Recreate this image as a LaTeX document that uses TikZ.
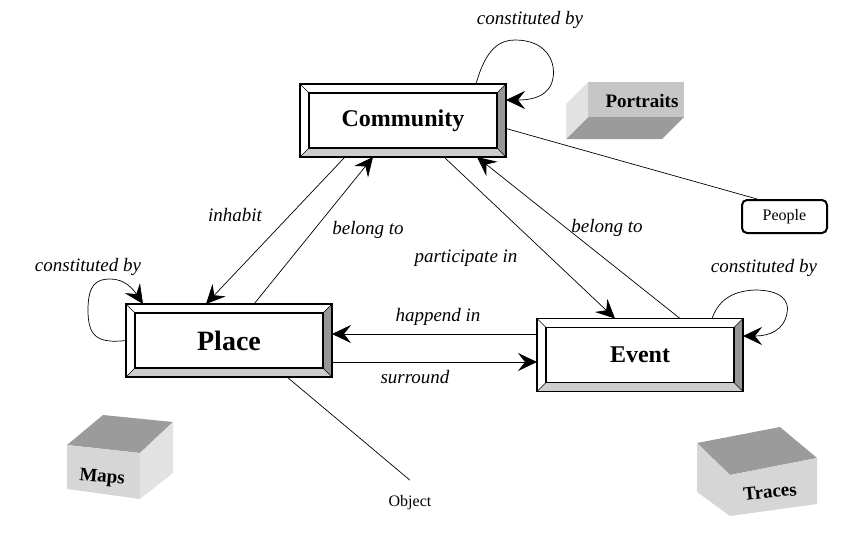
\documentclass[tikz,border=0pt]{standalone}
\usepackage{fontspec}
\setmainfont{Liberation Serif}
\usetikzlibrary{arrows.meta, calc}
\definecolor{bevdark}{RGB}{150,150,150}
\definecolor{bevlight}{RGB}{205,205,205}
\definecolor{cubetop}{RGB}{155,155,155}
\definecolor{cubeside}{RGB}{214,214,214}
\definecolor{cubepale}{RGB}{226,226,226}
\definecolor{cubemid}{RGB}{198,198,198}

\begin{document}
\begin{tikzpicture}[x=1pt, y=-1pt,
      entity/.style={rectangle, draw, line width=1.6pt, outer sep=0pt, minimum width=206pt, minimum height=73pt, font=\bfseries\fontsize{24}{28}\selectfont},
      arrow/.style={-{Stealth[length=19pt, width=18pt, inset=7pt]}, line width=0.7pt},
      link/.style={line width=0.7pt},
      rel/.style={font=\itshape\fontsize{19}{22}\selectfont},
      plain/.style={font=\fontsize{16}{19}\selectfont},
      cube/.style={font=\bfseries\fontsize{19}{22}\selectfont}
    ]
    \useasboundingbox (0,0) rectangle (868,546);

    % CUBES
    \fill[cubemid] (588,82) -- (684,82) -- (684,117) -- (588,117) -- cycle;
    \fill[cubetop] (588,117) -- (684,117) -- (662,139) -- (566,139) -- cycle;
    \fill[cubepale] (588,82) -- (588,117) -- (566,139) -- (566,104) -- cycle;
    \node[cube] (portraits) at (642,101) {Portraits};

    \fill[cubetop] (67,445) -- (103,415) -- (173,422) -- (140,453) -- cycle;
    \fill[cubeside] (67,445) -- (140,453) -- (140,499) -- (67,489) -- cycle;
    \fill[cubepale] (140,453) -- (173,422) -- (173,473) -- (140,499) -- cycle;
    \node[cube, rotate=-5] (maps) at (102,478) {Maps};

    \fill[cubetop] (697,443) -- (780,427) -- (817,458) -- (730,475) -- cycle;
    \fill[cubeside] (697,443) -- (730,475) -- (730,516) -- (697,492) -- cycle;
    \fill[cubeside] (730,475) -- (817,458) -- (817,504) -- (730,516) -- cycle;
    \node[cube, rotate=6] (traces) at (770,492) {Traces};

    % ENTITIES
    \node[entity] (community) at (403,120.5) {Community};
    \node[entity, font=\bfseries\fontsize{28}{32}\selectfont] (place) at (229,340.5) {Place};
    \node[entity] (event) at (640,355) {Event};

    \foreach \n in {community, place, event} {
      \coordinate (\n-a) at ($(\n.north west)+(9,9)$);
      \coordinate (\n-b) at ($(\n.north east)+(-9,9)$);
      \coordinate (\n-c) at ($(\n.south east)+(-9,-9)$);
      \coordinate (\n-d) at ($(\n.south west)+(9,-9)$);
      \fill[bevdark] (\n.north east) -- (\n.south east) -- (\n-c) -- (\n-b) -- cycle;
      \fill[bevlight] (\n.south west) -- (\n.south east) -- (\n-c) -- (\n-d) -- cycle;
      \draw[line width=0.6pt] (\n.north west) -- (\n-a) (\n.north east) -- (\n-b) (\n.south east) -- (\n-c) (\n.south west) -- (\n-d);
      \draw[line width=1.3pt] (\n-a) rectangle (\n-c);
      \draw[line width=1.6pt] (\n.north west) rectangle (\n.south east);
    }

    % OTHER NODES
    \node[draw, rounded corners=5pt, line width=2pt, minimum width=85pt, minimum height=33pt, plain] (people) at (784.5,216.5) {People};
    \node[plain] (object) at (410,503) {Object};

    % LABELS
    \node[rel] (lblcomm) at (530,20) {constituted by};
    \node[rel] (lblplace) at (88,267) {constituted by};
    \node[rel] (lblevent) at (764,268) {constituted by};
    \node[rel] (lblinhabit) at (235,215) {inhabit};
    \node[rel] (lblbelongl) at (368,230) {belong to};
    \node[rel] (lblpart) at (466,258) {participate in};
    \node[rel] (lblbelongr) at (607,228) {belong to};
    \node[rel] (lblhappend) at (438,317) {happend in};
    \node[rel] (lblsurround) at (415,377) {surround};

    %%% RELATIONS
    \draw[arrow] ([xshift=-58pt]community.south) -- ([xshift=-23pt]place.north);
    \draw[arrow] ([xshift=25pt]place.north) -- ([xshift=-30pt]community.south);
    \draw[arrow] ([xshift=41pt]community.south) -- ([xshift=-25pt]event.north);
    \draw[arrow] ([xshift=40pt]event.north) -- ([xshift=74pt]community.south);
    \draw[arrow] ([yshift=21pt]event.west) -- ([yshift=6.5pt]place.east);
    \draw[arrow] ([yshift=-21.5pt]place.east) -- ([yshift=-7pt]event.west);

    %%% SELF LOOPS
    \draw[arrow] ([xshift=73pt]community.north) .. controls (486,48) and (500,40) .. (515,40)
      .. controls (545,40) and (556,60) .. (553,78)
      .. controls (550,95) and (535,100) .. ([yshift=20.5pt]community.east);
    \draw[arrow] (place.west) .. controls (96,344) and (88,335) .. (88,310)
      .. controls (88,285) and (96,279) .. (110,279)
      .. controls (125,279) and (133,289) .. ([xshift=-86pt]place.north);
    \draw[arrow] ([xshift=72pt]event.north) .. controls (718,302) and (730,291) .. (755,290)
      .. controls (780,290) and (790,300) .. (787,313)
      .. controls (784,330) and (770,336) .. ([yshift=19pt]event.east);

    %%% PLAIN LINKS
    \draw[link] ([yshift=-8pt]community.east) -- ([xshift=16pt]people.north west);
    \draw[link] ([xshift=58pt]place.south) -- ([yshift=12pt]object.north);
\end{tikzpicture}
\end{document}
